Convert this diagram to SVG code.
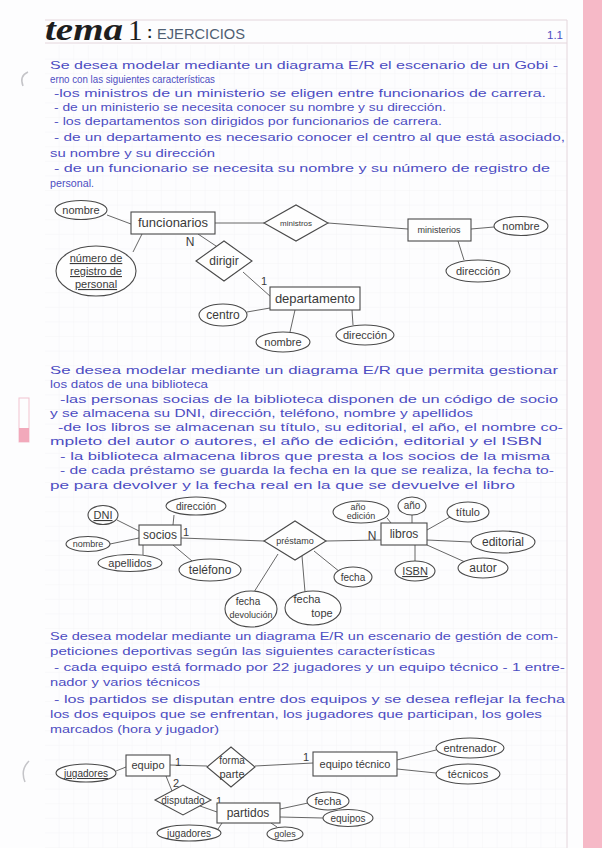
<svg xmlns="http://www.w3.org/2000/svg" width="602" height="848" viewBox="0 0 602 848">
<style>
.t{font-family:"Liberation Sans",Arial,sans-serif;font-size:11.5px;fill:#4d4dc2}
.l{font-family:"Liberation Sans",Arial,sans-serif;fill:#3a3a3a;text-anchor:middle}
.s{fill:#fefefe;stroke:#4a4a4a;stroke-width:1.1}
.c{fill:none;stroke:#555;stroke-width:0.9}
.u{text-decoration:underline}
.hd{stroke:#e4d6dc;stroke-width:1}
</style>
<defs>
<pattern id="grid" x="45" y="45" width="14.6" height="14.6" patternUnits="userSpaceOnUse">
<path d="M14.6 0V14.6H0" fill="none" stroke="#eef0f4" stroke-width="0.6"/>
</pattern>
</defs>
<rect width="602" height="848" fill="#fdfdfe"/>
<rect x="45" y="45" width="522" height="803" fill="url(#grid)"/>
<rect x="583" y="0" width="19" height="848" fill="#f6b9c7"/>
<line class="hd" x1="45" y1="20" x2="567" y2="20"/>
<line class="hd" x1="45" y1="43" x2="567" y2="43"/>
<line class="hd" x1="567" y1="20" x2="567" y2="848"/>
<path d="M28 72 Q19 76 23 86" fill="none" stroke="#c4c4c8" stroke-width="1.5"/>
<path d="M29 761 Q20 770 25 782" fill="none" stroke="#c4c4c8" stroke-width="1.5"/>
<rect x="19" y="398" width="10" height="44" fill="none" stroke="#f2c3cf" stroke-width="1"/>
<rect x="19" y="428" width="10" height="14" fill="#f2a9bb"/>

<g id="title">
<text x="45" y="40" font-family="Liberation Serif,serif" font-style="italic" font-weight="bold" font-size="32" fill="#1e1e1e" textLength="78" lengthAdjust="spacingAndGlyphs">tema</text>
<text x="128" y="40" font-family="Liberation Serif,serif" font-size="29" fill="#1e1e1e">1</text>
<text x="147" y="38" font-family="Liberation Sans,sans-serif" font-size="16" font-weight="bold" fill="#1e1e1e">:</text>
<text x="157" y="39" font-family="Liberation Sans,sans-serif" font-size="15" fill="#4f5f73" textLength="88" lengthAdjust="spacingAndGlyphs">EJERCICIOS</text>
<text x="547" y="39" class="t" font-size="13">1.1</text>
</g>

<g id="text1">
<text class="t" x="50" y="69" textLength="508" lengthAdjust="spacingAndGlyphs">Se desea modelar mediante un diagrama E/R el escenario de un Gobi -</text>
<text class="t" x="50" y="83" font-size="10" textLength="165" lengthAdjust="spacingAndGlyphs">erno con las siguientes características</text>
<text class="t" x="54" y="97" textLength="492" lengthAdjust="spacingAndGlyphs">-los ministros de un ministerio se eligen entre funcionarios de carrera.</text>
<text class="t" x="54" y="111" textLength="392" lengthAdjust="spacingAndGlyphs">- de un ministerio se necesita conocer su nombre y su dirección.</text>
<text class="t" x="54" y="125" textLength="388" lengthAdjust="spacingAndGlyphs">- los departamentos son dirigidos por funcionarios de carrera.</text>
<text class="t" x="54" y="141" textLength="511" lengthAdjust="spacingAndGlyphs">- de un departamento es necesario conocer el centro al que está asociado,</text>
<text class="t" x="50" y="157" textLength="165" lengthAdjust="spacingAndGlyphs">su nombre y su dirección</text>
<text class="t" x="54" y="172" textLength="496" lengthAdjust="spacingAndGlyphs">- de un funcionario se necesita su nombre y su número de registro de</text>
<text class="t" x="50" y="187" font-size="11" textLength="44" lengthAdjust="spacingAndGlyphs">personal.</text>
</g>

<g id="connectors">
<line class="c" x1="107" y1="215" x2="131" y2="224"/>
<line class="c" x1="133" y1="252" x2="142" y2="234"/>
<line class="c" x1="215" y1="223" x2="264" y2="223"/>
<line class="c" x1="328" y1="223" x2="408" y2="229"/>
<line class="c" x1="471" y1="229" x2="494" y2="227"/>
<line class="c" x1="458" y1="241" x2="464" y2="260"/>
<line class="c" x1="198" y1="234" x2="219" y2="248"/>
<line class="c" x1="243" y1="272" x2="271" y2="297"/>
<line class="c" x1="247" y1="312" x2="270" y2="308"/>
<line class="c" x1="295" y1="310" x2="290" y2="332"/>
<line class="c" x1="352" y1="310" x2="353" y2="325"/>

<line class="c" x1="117" y1="520" x2="139" y2="531"/>
<line class="c" x1="174" y1="515" x2="173" y2="525"/>
<line class="c" x1="110" y1="544" x2="139" y2="538"/>
<line class="c" x1="143" y1="545" x2="143" y2="555"/>
<line class="c" x1="173" y1="545" x2="192" y2="561"/>
<line class="c" x1="181" y1="538" x2="264" y2="541"/>
<line class="c" x1="326" y1="541" x2="381" y2="540"/>
<line class="c" x1="278" y1="554" x2="254" y2="592"/>
<line class="c" x1="302" y1="556" x2="305" y2="592"/>
<line class="c" x1="314" y1="551" x2="340" y2="572"/>
<line class="c" x1="387" y1="518" x2="391" y2="523"/>
<line class="c" x1="412" y1="515" x2="412" y2="523"/>
<line class="c" x1="450" y1="517" x2="427" y2="530"/>
<line class="c" x1="427" y1="540" x2="471" y2="542"/>
<line class="c" x1="427" y1="545" x2="465" y2="562"/>
<line class="c" x1="415" y1="545" x2="415" y2="561"/>

<line class="c" x1="116" y1="771" x2="126" y2="767"/>
<line class="c" x1="170" y1="765" x2="207" y2="766"/>
<line class="c" x1="255" y1="766" x2="313" y2="763"/>
<line class="c" x1="397" y1="760" x2="436" y2="750"/>
<line class="c" x1="397" y1="769" x2="436" y2="773"/>
<line class="c" x1="166" y1="776" x2="172" y2="791"/>
<line class="c" x1="200" y1="806" x2="217" y2="812"/>
<line class="c" x1="280" y1="809" x2="308" y2="803"/>
<line class="c" x1="280" y1="817" x2="323" y2="818"/>
<line class="c" x1="222" y1="823" x2="218" y2="829"/>
<line class="c" x1="271" y1="823" x2="277" y2="827"/>
</g>

<g id="card1">
<text class="l" x="190" y="246" font-size="12">N</text>
<text class="l" x="264" y="285" font-size="11">1</text>
<text class="l" x="186" y="536" font-size="11">1</text>
<text class="l" x="372" y="540" font-size="12">N</text>
<text class="l" x="178" y="766" font-size="11">1</text>
<text class="l" x="306" y="761" font-size="11">1</text>
<text class="l" x="176" y="787" font-size="11">2</text>
<text class="l" x="219" y="805" font-size="11">1</text>
</g>

<g id="funcionarios"><rect class="s" x="131" y="212" width="84" height="22"/><text class="l" x="173" y="227" font-size="13">funcionarios</text></g>
<g id="nombre-func"><ellipse class="s" cx="81" cy="210" rx="26" ry="9.5"/><text class="l" x="81" y="214" font-size="11">nombre</text></g>
<g id="numero-registro"><ellipse class="s" cx="96" cy="271" rx="40" ry="25"/><text class="l u" x="96" y="262" font-size="11">número de</text><text class="l u" x="96" y="275" font-size="11">registro de</text><text class="l u" x="96" y="288" font-size="11">personal</text></g>
<g id="ministros"><polygon class="s" points="264,223 296,205 328,223 296,241"/><text class="l" x="296" y="226" font-size="8">ministros</text></g>
<g id="ministerios"><rect class="s" x="408" y="219" width="63" height="22"/><text class="l" x="439" y="233" font-size="9">ministerios</text></g>
<g id="nombre-min"><ellipse class="s" cx="521" cy="226" rx="27" ry="9.5"/><text class="l" x="521" y="230" font-size="11">nombre</text></g>
<g id="direccion-min"><ellipse class="s" cx="478" cy="271" rx="32" ry="11"/><text class="l" x="478" y="275" font-size="11">dirección</text></g>
<g id="dirigir"><polygon class="s" points="196,261 224,241 252,261 224,281"/><text class="l" x="224" y="265" font-size="12">dirigir</text></g>
<g id="departamento"><rect class="s" x="270" y="287" width="90" height="23"/><text class="l" x="315" y="303" font-size="13">departamento</text></g>
<g id="centro"><ellipse class="s" cx="223" cy="315" rx="24" ry="11"/><text class="l" x="223" y="319" font-size="12">centro</text></g>
<g id="nombre-dep"><ellipse class="s" cx="283" cy="342" rx="27" ry="10"/><text class="l" x="283" y="346" font-size="11">nombre</text></g>
<g id="direccion-dep"><ellipse class="s" cx="365" cy="335" rx="29" ry="10"/><text class="l" x="365" y="339" font-size="11">dirección</text></g>

<g id="text2">
<text class="t" x="50" y="374" textLength="508" lengthAdjust="spacingAndGlyphs">Se desea modelar mediante un diagrama E/R que permita gestionar</text>
<text class="t" x="50" y="388" textLength="158" lengthAdjust="spacingAndGlyphs">los datos de una biblioteca</text>
<text class="t" x="60" y="403" textLength="498" lengthAdjust="spacingAndGlyphs">-las personas socias de la biblioteca disponen de un código de socio</text>
<text class="t" x="50" y="417" textLength="423" lengthAdjust="spacingAndGlyphs">y se almacena su DNI, dirección, teléfono, nombre y apellidos</text>
<text class="t" x="58" y="431" textLength="505" lengthAdjust="spacingAndGlyphs">-de los libros se almacenan su título, su editorial, el año, el nombre co-</text>
<text class="t" x="50" y="445" textLength="492" lengthAdjust="spacingAndGlyphs">mpleto del autor o autores, el año de edición, editorial y el ISBN</text>
<text class="t" x="60" y="460" textLength="490" lengthAdjust="spacingAndGlyphs">- la biblioteca almacena libros que presta a los socios de la misma</text>
<text class="t" x="60" y="474" textLength="494" lengthAdjust="spacingAndGlyphs">- de cada préstamo se guarda la fecha en la que se realiza, la fecha to-</text>
<text class="t" x="50" y="489" textLength="465" lengthAdjust="spacingAndGlyphs">pe para devolver y la fecha real en la que se devuelve el libro</text>
</g>

<g id="socios"><rect class="s" x="139" y="525" width="42" height="20"/><text class="l" x="160" y="539" font-size="12">socios</text></g>
<g id="dni"><ellipse class="s" cx="103" cy="515" rx="15" ry="9.5"/><text class="l u" x="103" y="519" font-size="11">DNI</text></g>
<g id="direccion-soc"><ellipse class="s" cx="196" cy="506" rx="30" ry="9"/><text class="l" x="196" y="510" font-size="10">dirección</text></g>
<g id="nombre-soc"><ellipse class="s" cx="88" cy="544" rx="22" ry="7.5"/><text class="l" x="88" y="547" font-size="9">nombre</text></g>
<g id="apellidos"><ellipse class="s" cx="130" cy="563" rx="32" ry="8.5"/><text class="l" x="130" y="567" font-size="11">apellidos</text></g>
<g id="telefono"><ellipse class="s" cx="210" cy="570" rx="31" ry="11"/><text class="l" x="210" y="574" font-size="12">teléfono</text></g>
<g id="prestamo"><polygon class="s" points="264,541 295,521 326,541 295,560"/><text class="l" x="295" y="544" font-size="9">préstamo</text></g>
<g id="libros"><rect class="s" x="381" y="523" width="46" height="22"/><text class="l" x="404" y="538" font-size="12">libros</text></g>
<g id="anio-edicion"><ellipse class="s" cx="361" cy="512" rx="28" ry="11"/><text class="l" x="358" y="510" font-size="9">año</text><text class="l" x="361" y="519" font-size="9">edición</text></g>
<g id="anio"><ellipse class="s" cx="412" cy="506" rx="14" ry="9"/><text class="l" x="412" y="509" font-size="10">año</text></g>
<g id="titulo"><ellipse class="s" cx="468" cy="512" rx="21" ry="10"/><text class="l" x="468" y="516" font-size="11">título</text></g>
<g id="editorial"><ellipse class="s" cx="503" cy="542" rx="32" ry="11"/><text class="l" x="503" y="546" font-size="12">editorial</text></g>
<g id="autor"><ellipse class="s" cx="483" cy="568" rx="25" ry="10"/><text class="l" x="483" y="572" font-size="12">autor</text></g>
<g id="isbn"><ellipse class="s" cx="415" cy="571" rx="20" ry="10"/><text class="l u" x="415" y="575" font-size="11">ISBN</text></g>
<g id="fecha-pres"><ellipse class="s" cx="353" cy="577" rx="19" ry="10"/><text class="l" x="353" y="581" font-size="10">fecha</text></g>
<g id="fecha-devolucion"><ellipse class="s" cx="251" cy="609" rx="26" ry="18"/><text class="l" x="248" y="605" font-size="10">fecha</text><text class="l" x="251" y="618" font-size="9">devolución</text></g>
<g id="fecha-tope"><ellipse class="s" cx="313" cy="608" rx="28" ry="17"/><text class="l" x="307" y="603" font-size="11">fecha</text><text class="l" x="322" y="617" font-size="11">tope</text></g>

<g id="text3">
<text class="t" x="50" y="640" textLength="508" lengthAdjust="spacingAndGlyphs">Se desea modelar mediante un diagrama E/R un escenario de gestión de com-</text>
<text class="t" x="50" y="655" textLength="385" lengthAdjust="spacingAndGlyphs">peticiones deportivas según las siguientes características</text>
<text class="t" x="54" y="671" textLength="511" lengthAdjust="spacingAndGlyphs">- cada equipo está formado por 22 jugadores y un equipo técnico - 1 entre-</text>
<text class="t" x="50" y="686" textLength="150" lengthAdjust="spacingAndGlyphs">nador y varios técnicos</text>
<text class="t" x="54" y="703" textLength="511" lengthAdjust="spacingAndGlyphs">- los partidos se disputan entre dos equipos y se desea reflejar la fecha</text>
<text class="t" x="50" y="718" textLength="492" lengthAdjust="spacingAndGlyphs">los dos equipos que se enfrentan, los jugadores que participan, los goles</text>
<text class="t" x="50" y="733" textLength="169" lengthAdjust="spacingAndGlyphs">marcados (hora y jugador)</text>
</g>

<g id="equipo"><rect class="s" x="126" y="755" width="44" height="21"/><text class="l" x="148" y="769" font-size="11">equipo</text></g>
<g id="jugadores-eq"><ellipse class="s" cx="86" cy="773" rx="30" ry="9"/><text class="l u" x="86" y="777" font-size="10">jugadores</text></g>
<g id="forma-parte"><polygon class="s" points="207,767 231,747 255,767 231,787"/><text class="l" x="232" y="764" font-size="10">forma</text><text class="l" x="232" y="778" font-size="11">parte</text></g>
<g id="equipo-tecnico"><rect class="s" x="313" y="752" width="84" height="24"/><text class="l" x="355" y="768" font-size="11">equipo técnico</text></g>
<g id="entrenador"><ellipse class="s" cx="470" cy="748" rx="34" ry="10"/><text class="l" x="470" y="752" font-size="11">entrenador</text></g>
<g id="tecnicos"><ellipse class="s" cx="468" cy="774" rx="32" ry="10"/><text class="l" x="468" y="778" font-size="11">técnicos</text></g>
<g id="disputado"><polygon class="s" points="155,800 183,785 211,800 183,815"/><text class="l" x="183" y="804" font-size="10">disputado</text></g>
<g id="partidos"><rect class="s" x="217" y="803" width="63" height="20"/><text class="l" x="248" y="817" font-size="12">partidos</text></g>
<g id="fecha-part"><ellipse class="s" cx="328" cy="801" rx="21" ry="9"/><text class="l" x="328" y="805" font-size="11">fecha</text></g>
<g id="equipos"><ellipse class="s" cx="348" cy="818" rx="25" ry="8.5"/><text class="l" x="348" y="822" font-size="10">equipos</text></g>
<g id="jugadores-part"><ellipse class="s" cx="189" cy="833" rx="32" ry="8"/><text class="l" x="189" y="837" font-size="10">jugadores</text></g>
<g id="goles"><ellipse class="s" cx="285" cy="834" rx="18" ry="7"/><text class="l" x="285" y="837" font-size="9">goles</text></g>
</svg>
